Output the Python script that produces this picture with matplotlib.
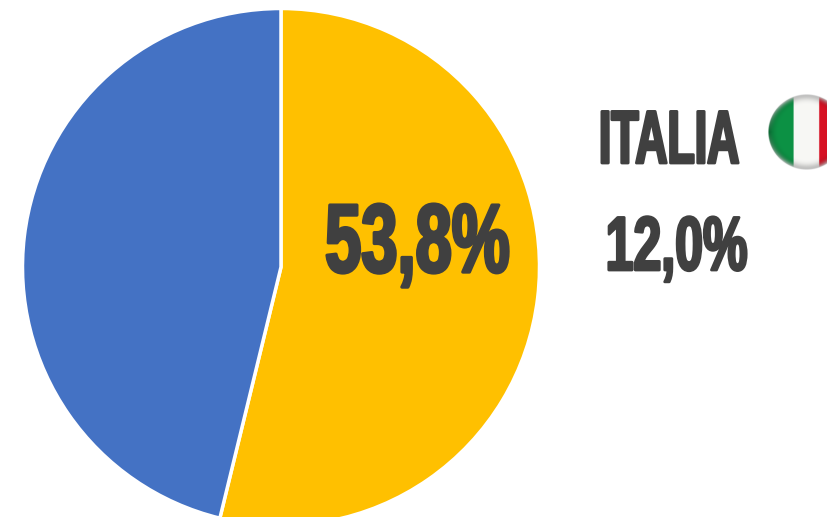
import matplotlib
matplotlib.use("Agg")
import numpy as np
import matplotlib.pyplot as plt
import matplotlib.patheffects as pe
from matplotlib.transforms import Affine2D

W, H = 828, 517
shares = [53.8, 46.2]
colors = ["#FFC000", "#4472C4"]
main_label = "53,8%"
country = "ITALIA"
country_value = "12,0%"

fig = plt.figure(figsize=(W/100, H/100), dpi=100)

size = 517
pax = fig.add_axes([(281-size/2)/W, (H-267-size/2)/H, size/W, size/H])
pax.pie(shares, colors=colors, startangle=90, counterclock=False, radius=1.0,
        wedgeprops=dict(edgecolor="white", linewidth=2.5))
pax.set_xlim(-1, 1); pax.set_ylim(-1, 1)
pax.set_aspect("equal")
pax.axis("off")

fax = fig.add_axes([0, 0, 1, 1])
fax.set_xlim(0, W); fax.set_ylim(H, 0); fax.axis("off")

class Squeeze(pe.AbstractPathEffect):
    """Narrows real text horizontally about its anchor and thickens it."""
    def __init__(self, cx, sx, lw):
        super().__init__()
        self.cx, self.sx, self.lw = cx, sx, lw
    def draw_path(self, renderer, gc, tpath, affine, rgbFace):
        gc0 = renderer.new_gc()
        gc0.copy_properties(gc)
        gc0.set_linewidth(self.lw)
        gc0.set_foreground("#404040")
        a = affine + Affine2D().translate(-self.cx, 0).scale(self.sx, 1).translate(self.cx, 0)
        renderer.draw_path(gc0, tpath, a, rgbFace)
        gc0.restore()

def t(x, base, s, size, sx, lw):
    fax.text(x, base, s, ha="center", va="baseline", fontsize=size, color="#404040",
             family=["Liberation Sans"], fontweight="bold",
             path_effects=[Squeeze(x, sx, lw)])

t(417.5, 272, main_label, 70, 0.67, 2.4)
t(669, 163, country, 54, 0.595, 2.0)
t(676.5, 270, country_value, 55, 0.655, 2.0)

# flag: three stripes with a glossy spherical shading
cx, cy, r = 806, 132, 38
n = 160
yy, xx = np.mgrid[-1:1:n*1j, -1:1:n*1j]
rr = np.hypot(xx, yy)
rgb = np.ones((n, n, 3))
rgb[xx < -1/3] = (0.05, 0.57, 0.27)
rgb[(xx >= -1/3) & (xx < 1/3)] = (0.97, 0.97, 0.96)
rgb[xx >= 1/3] = (0.84, 0.07, 0.14)
shade = 1 - 0.35 * np.clip((rr - 0.72) / 0.28, 0, 1) ** 2
rgb = rgb * shade[..., None]
# soft grey band along the rim, heavier at the bottom and top
rim = np.clip((rr - 0.82) / 0.18, 0, 1) ** 2 * np.clip(np.abs(yy) * 1.3, 0, 1)
rgb = rgb * (1 - rim[..., None]) + 0.78 * rim[..., None]
alpha = np.clip((1 - rr) * n / 2, 0, 1)
img = np.dstack([rgb, alpha])
fax.imshow(img, extent=(cx-r, cx+r, cy+r, cy-r), interpolation="bilinear", aspect="auto", zorder=3)
fax.set_xlim(0, W); fax.set_ylim(H, 0)

fig.savefig("out.png", dpi=100)
